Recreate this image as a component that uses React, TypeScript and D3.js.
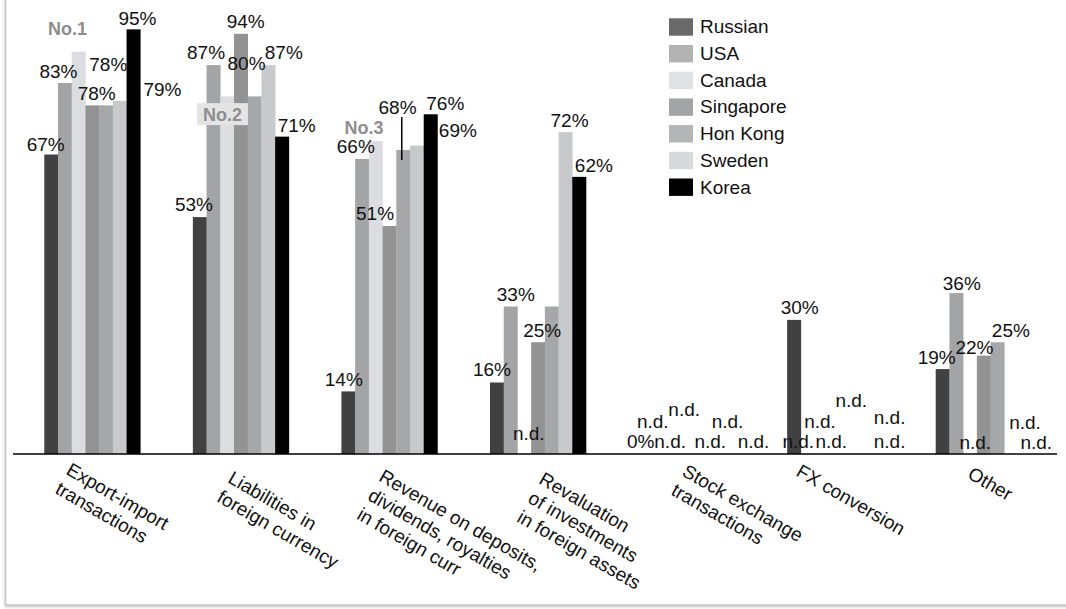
import React from 'react';
import * as d3 from 'd3';

// ---------- DATA ----------
const categoryLines: string[][] = [
  ['Export-import', 'transactions'],
  ['Liabilities in', 'foreign currency'],
  ['Revenue on deposits,', 'dividends, royalties', 'in foreign curr'],
  ['Revaluation', 'of investments', 'in foreign assets'],
  ['Stock exchange', 'transactions'],
  ['FX conversion'],
  ['Other'],
];
const seriesNames = ['Russian', 'USA', 'Canada', 'Singapore', 'Hon Kong', 'Sweden', 'Korea'];
// null = n.d.
const russian = [67, 53, 14, 16, 0, 30, 19];
const usa = [83, 87, 66, 33, null, null, 36];
const canada = [90, 80, 70, null, null, null, null];
const singapore = [78, 94, 51, 25, null, null, 22];
const honKong = [78, 80, 68, 33, null, null, 25];
const sweden = [79, 87, 69, 72, null, null, null];
const korea = [95, 71, 76, 62, null, null, null];
const seriesValues: (number | null)[][] = [russian, usa, canada, singapore, honKong, sweden, korea];
const hiddenLabels = ['0-2', '1-2', '2-2', '3-4'];
const rankNotes = [
  { cat: 0, text: 'No.1' },
  { cat: 1, text: 'No.2' },
  { cat: 2, text: 'No.3' },
];

// ---------- LAYOUT / STYLE ----------
const W = 1066;
const H = 609;
const FONT = '"Liberation Sans", Arial, Helvetica, sans-serif';
const barColors = ['#414141', '#a3a4a6', '#dcdde0', '#939393', '#a6a7a9', '#c8c9cb', '#000000'];
const legendColors = ['#696969', '#b3b3b3', '#e1e2e4', '#a3a4a6', '#b4b5b7', '#d8d9db', '#000000'];
// [dx, baseline offset from bar top]
const labelNudge: Record<string, [number, number]> = {
  '0-0': [-5.4, -3.3], '0-1': [-6.4, -5], '0-3': [4.4, -5], '0-4': [2.3, -34.3], '0-5': [42.8, -4.7], '0-6': [4, -4.7],
  '1-0': [-5.7, -5.7], '1-1': [-7.4, -5.7], '1-3': [4.9, -5.7], '1-4': [-8, -26.3], '1-5': [15.5, -5.7], '1-6': [14.7, -4.3],
  '2-0': [-4.5, -5.7], '2-1': [-6.2, -5.7], '2-3': [-14.4, -6], '2-4': [-5.6, -35.7], '2-5': [41, -8.3], '2-6': [14.7, -4.7],
  '3-0': [-4.9, -6], '3-1': [5.2, -5.3], '3-2': [4.5, -14], '3-3': [4.2, -5.4], '3-5': [4.1, -5], '3-6': [14.7, -5.3],
  '4-0': [-4.7, -6], '4-1': [-6.4, -25.7], '4-2': [-2.7, -6], '4-3': [-2.4, -38.3], '4-4': [10, -6], '4-5': [13.5, -25.7], '4-6': [25.8, -6],
  '5-0': [5.7, -6], '5-1': [-9.4, -6], '5-2': [9.8, -6], '5-3': [-15.1, -25.7], '5-4': [2.4, -46.7], '5-5': [27, -30], '5-6': [13.3, -6],
  '6-0': [-5.9, -5], '6-1': [5.5, -3], '6-2': [5.3, -5], '6-3': [-9.2, -1.7], '6-4': [13.4, -5.4], '6-5': [13.9, -24.7], '6-6': [11.4, -5],
};
const CAT_ANGLE = 30;
const CAT_FONT = 19;
const CAT_LH = 22;
// [dx from group centre, dy below axis] for first-line baseline start
const catLabelNudge: [number, number][] = [
  [-27.3, 19.5], [-14.2, 27.8], [-11.8, 26.1], [-0.2, 28.8], [-5.6, 21], [-40.1, 21], [-17.2, 23.5],
];
const rankNudge: [number, number][] = [[-11.1, -16.7], [-4.7, 24.4], [-11.7, -7]];

export default function App() {
  const baseY = 454;
  const x0 = d3.scaleBand<number>().domain(d3.range(categoryLines.length)).range([18, 1058]).padding(0);
  const step = x0.bandwidth();
  const groupW = 96;
  const x1 = d3
    .scaleBand<number>()
    .domain(d3.range(seriesNames.length))
    .range([(step - groupW) / 2, (step + groupW) / 2])
    .padding(0);
  const y = d3.scaleLinear().domain([0, 100]).range([baseY, 7]);
  const bw = x1.bandwidth();

  const bars: React.ReactNode[] = [];
  const labels: React.ReactNode[] = [];
  categoryLines.forEach((_, ci) => {
    seriesValues.forEach((vals, si) => {
      const v = vals[ci];
      const bx = (x0(ci) as number) + (x1(si) as number);
      const cx = bx + bw / 2;
      const key = `${ci}-${si}`;
      const top = v == null ? y(0) : y(v);
      if (v != null && v > 0) {
        bars.push(
          <rect key={'b' + key} x={bx} y={top} width={bw + 0.3} height={baseY - top} fill={barColors[si]} />
        );
      }
      if (hiddenLabels.includes(key)) return;
      const [dx, dy] = labelNudge[key] || [0, -5];
      labels.push(
        <text key={'l' + key} x={cx + dx} y={top + dy} textAnchor="middle" fontSize={19} fill="#111">
          {v == null ? 'n.d.' : `${v}%`}
        </text>
      );
    });
  });

  // pointer for 68% label
  const pCat = 2, pSer = 4;
  const pX = (x0(pCat) as number) + (x1(pSer) as number) + bw / 2 - 1.4;
  const pTop = y(seriesValues[pSer][pCat] as number);

  return (
    <svg width={W} height={H} style={{ position: 'absolute', left: 0, top: 0, fontFamily: FONT }}>
      <defs>
        <filter id="sh" x="-5%" y="-5%" width="110%" height="110%">
          <feDropShadow dx="0" dy="1" stdDeviation="1.5" floodColor="#000" floodOpacity="0.25" />
        </filter>
      </defs>
      <rect x={0} y={0} width={W} height={H} fill="#fff" />
      <rect x={5.5} y={-10} width={1090} height={615} fill="#fff" stroke="#c4c4c4" strokeWidth={1.5} filter="url(#sh)" />
      {bars}
      <line x1={13} x2={1057} y1={baseY} y2={baseY} stroke="#000" strokeWidth={1.5} />
      {labels}
      <line x1={pX} x2={pX} y1={pTop - 33} y2={pTop + 10} stroke="#000" strokeWidth={1.5} />
      {rankNotes.map((r, i) => {
        const si = 2;
        const cx = (x0(r.cat) as number) + (x1(si) as number) + bw / 2 + rankNudge[i][0];
        const by = y(seriesValues[si][r.cat] as number) + rankNudge[i][1];
        return (
          <g key={'r' + i}>
            {i === 1 && <rect x={cx - 25.5} y={by - 17.7} width={51} height={22} fill="#e4e4e4" />}
            <text x={cx} y={by} textAnchor="middle" fontSize={18} fontWeight="bold" fill="#8e8e8e">
              {r.text}
            </text>
          </g>
        );
      })}
      {categoryLines.map((lines, ci) => {
        const cx = (x0(ci) as number) + step / 2 + catLabelNudge[ci][0];
        const cy = baseY + catLabelNudge[ci][1];
        return (
          <g key={'c' + ci} transform={`translate(${cx},${cy}) rotate(${CAT_ANGLE})`}>
            {lines.map((ln, li) => (
              <text key={li} x={0} y={li * CAT_LH} fontSize={CAT_FONT} fill="#111">
                {ln}
              </text>
            ))}
          </g>
        );
      })}
      {seriesNames.map((s, i) => (
        <g key={'lg' + i} transform={`translate(669,${18.3 + i * 26.7})`}>
          <rect x={0} y={0} width={24} height={17.4} fill={legendColors[i]} />
          <text x={31} y={15} fontSize={19} fill="#111">
            {s}
          </text>
        </g>
      ))}
    </svg>
  );
}
